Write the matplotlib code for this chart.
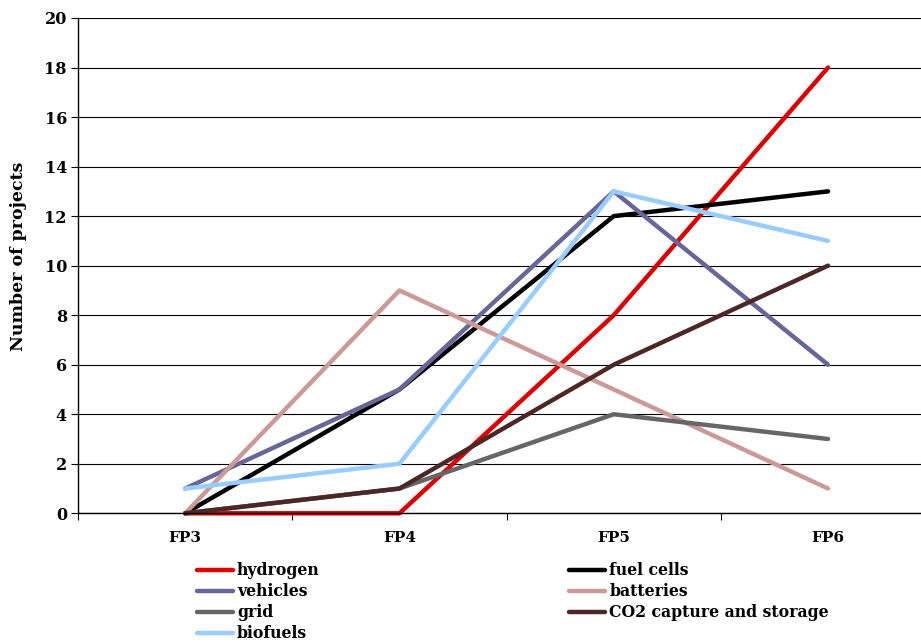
import matplotlib.pyplot as plt

# Framework programmes and project counts per topic
periods = ["FP3", "FP4", "FP5", "FP6"]
hydrogen = [0, 0, 8, 18]
fuel_cells = [0, 5, 12, 13]
vehicles = [1, 5, 13, 6]
batteries = [0, 9, 5, 1]
grid = [0, 1, 4, 3]
ccs = [0, 1, 6, 10]
biofuels = [1, 2, 13, 11]

series = [
    ("hydrogen", hydrogen, "#DD0000"),
    ("fuel cells", fuel_cells, "#000000"),
    ("vehicles", vehicles, "#666699"),
    ("batteries", batteries, "#CC9999"),
    ("grid", grid, "#666666"),
    ("CO2 capture and storage", ccs, "#4D2626"),
    ("biofuels", biofuels, "#99CCFF"),
]

plt.rcParams["font.family"] = ["DejaVu Serif"]
plt.rcParams["font.weight"] = "bold"

fig = plt.figure(figsize=(9.21, 6.44), dpi=100)
ax = fig.add_axes([78 / 921, 130.7 / 644, 843 / 921, 495.3 / 644])

x = list(range(len(periods)))
handles = {}
for label, vals, color in series:
    (h,) = ax.plot(x, vals, color=color, lw=3.2, solid_capstyle="round",
                   solid_joinstyle="round", label=label, clip_on=False)
    handles[label] = h

ax.set_yticks(range(0, 21, 2))
ax.yaxis.grid(True, color="black", lw=0.8)
ax.set_axisbelow(True)

# category axis: ticks between categories, labels centred on them
ax.set_xticks([-0.5, 0.5, 1.5, 2.5, 3.5])
ax.set_xticklabels([])
ax.set_xticks(x, minor=True)
ax.set_xticklabels(periods, minor=True)
ax.set_xlim(-0.5, -0.5 + 843 / 214.3)
ax.set_ylim(0, 20)
ax.tick_params(axis="x", which="minor", length=0, pad=13, labelsize=11)
ax.tick_params(axis="x", which="major", length=5, color="black")
ax.tick_params(axis="y", length=5, labelsize=11.5, pad=3)

for side in ("top", "right"):
    ax.spines[side].set_visible(False)
ax.spines["left"].set_linewidth(1)
ax.spines["bottom"].set_linewidth(1)

ax.set_ylabel("Number of projects", fontsize=12.5, fontweight="bold")
ax.yaxis.set_label_coords(-0.06, 0.518)

order = ["hydrogen", "vehicles", "grid", "biofuels",
         "fuel cells", "batteries", "CO2 capture and storage"]
fig.legend([handles[k] for k in order], order, ncol=2, frameon=False,
           loc="upper left", bbox_to_anchor=(197 / 921, 1 - 562 / 644),
           fontsize=11.3, handlelength=2.3, handletextpad=0.25,
           labelspacing=0.26, columnspacing=15.9, borderaxespad=0,
           borderpad=0)

fig.savefig("out.png", dpi=100)
